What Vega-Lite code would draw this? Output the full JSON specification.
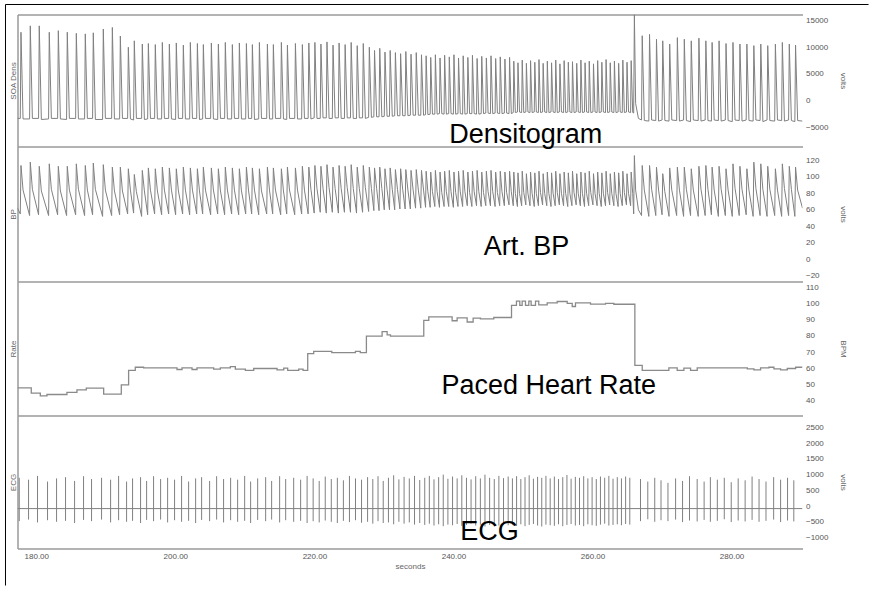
{
"$schema":"https://vega.github.io/schema/vega-lite/v6.json",
"padding":{"left":4.5,"top":3.5,"right":0,"bottom":0},
"background":"white",
"spacing":0,
"bounds":"flush",
"config":{"view":{"stroke":null},"axis":{"grid":false,"ticks":false,"labelFont":"Liberation Sans","titleFont":"Liberation Sans","labelFontSize":8,"titleFontSize":8,"labelColor":"#555","titleColor":"#666","titleFontWeight":"normal","domainColor":"#9a9a9a","domainWidth":1.5}},
"datasets":{
"db":[
{"t":177.3,"d":-3300,"b":62},
{"t":177.7,"d":-3300,"b":55},{"t":177.8,"d":12800,"b":114},{"t":178.1,"d":-3400,"b":84},
{"t":179.04,"d":-3400,"b":53},{"t":179.14,"d":14000,"b":118},{"t":179.44,"d":-3300,"b":85},
{"t":180.33,"d":-3300,"b":54},{"t":180.43,"d":14000,"b":113},{"t":180.73,"d":-3500,"b":83},
{"t":181.77,"d":-3400,"b":53},{"t":181.87,"d":12800,"b":116},{"t":182.17,"d":-3300,"b":85},
{"t":183.07,"d":-3300,"b":54},{"t":183.17,"d":13100,"b":113},{"t":183.47,"d":-3400,"b":83},
{"t":184.36,"d":-3500,"b":53},{"t":184.46,"d":12800,"b":113},{"t":184.76,"d":-3300,"b":84},
{"t":185.66,"d":-3300,"b":54},{"t":185.76,"d":12600,"b":116},{"t":186.06,"d":-3400,"b":85},
{"t":186.95,"d":-3400,"b":53},{"t":187.05,"d":12500,"b":114},{"t":187.35,"d":-3300,"b":84},
{"t":188.1,"d":-3300,"b":54},{"t":188.2,"d":12700,"b":117},{"t":188.5,"d":-3500,"b":85},
{"t":189.54,"d":-3500,"b":52},{"t":189.64,"d":13400,"b":115},{"t":189.94,"d":-3300,"b":84},
{"t":190.84,"d":-3300,"b":53},{"t":190.94,"d":13700,"b":112},{"t":191.24,"d":-3400,"b":83},
{"t":191.99,"d":-3400,"b":54},{"t":192.09,"d":12100,"b":112},{"t":192.39,"d":-3300,"b":83},
{"t":193.14,"d":-3300,"b":55},{"t":193.24,"d":10000,"b":110},{"t":193.54,"d":-3400,"b":84},
{"t":194.0,"d":-3600,"b":56},{"t":194.1,"d":11200,"b":103},{"t":194.4,"d":-3300,"b":82},
{"t":195.15,"d":-3300,"b":52},{"t":195.25,"d":10600,"b":108},{"t":195.55,"d":-3500,"b":83},
{"t":196.02,"d":-3400,"b":54},{"t":196.12,"d":10700,"b":111},{"t":196.42,"d":-3300,"b":84},
{"t":197.02,"d":-3300,"b":55},{"t":197.12,"d":10500,"b":110},{"t":197.42,"d":-3400,"b":83},
{"t":198.03,"d":-3400,"b":54},{"t":198.13,"d":10900,"b":112},{"t":198.43,"d":-3300,"b":84},
{"t":199.04,"d":-3300,"b":55},{"t":199.14,"d":10600,"b":111},{"t":199.44,"d":-3400,"b":84},
{"t":200.04,"d":-3500,"b":54},{"t":200.14,"d":10800,"b":110},{"t":200.44,"d":-3300,"b":83},
{"t":201.05,"d":-3300,"b":55},{"t":201.15,"d":10400,"b":112},{"t":201.45,"d":-3400,"b":84},
{"t":202.06,"d":-3400,"b":54},{"t":202.16,"d":10900,"b":111},{"t":202.46,"d":-3300,"b":84},
{"t":203.07,"d":-3300,"b":55},{"t":203.17,"d":10700,"b":110},{"t":203.47,"d":-3500,"b":83},
{"t":203.93,"d":-3400,"b":55},{"t":204.03,"d":10500,"b":112},{"t":204.33,"d":-3300,"b":84},
{"t":205.08,"d":-3300,"b":54},{"t":205.18,"d":10800,"b":111},{"t":205.48,"d":-3400,"b":84},
{"t":206.09,"d":-3500,"b":55},{"t":206.19,"d":10600,"b":110},{"t":206.49,"d":-3300,"b":83},
{"t":207.09,"d":-3300,"b":54},{"t":207.19,"d":10900,"b":112},{"t":207.49,"d":-3400,"b":84},
{"t":208.1,"d":-3400,"b":55},{"t":208.2,"d":10500,"b":111},{"t":208.5,"d":-3300,"b":84},
{"t":209.11,"d":-3300,"b":54},{"t":209.21,"d":10800,"b":110},{"t":209.51,"d":-3400,"b":83},
{"t":210.12,"d":-3400,"b":55},{"t":210.22,"d":10700,"b":112},{"t":210.52,"d":-3300,"b":84},
{"t":210.98,"d":-3300,"b":55},{"t":211.08,"d":10500,"b":111},{"t":211.38,"d":-3500,"b":84},
{"t":211.99,"d":-3400,"b":54},{"t":212.09,"d":10900,"b":110},{"t":212.39,"d":-3300,"b":83},
{"t":213.14,"d":-3300,"b":55},{"t":213.24,"d":10600,"b":112},{"t":213.54,"d":-3400,"b":84},
{"t":214.0,"d":-3400,"b":55},{"t":214.1,"d":10500,"b":111},{"t":214.4,"d":-3300,"b":84},
{"t":215.15,"d":-3300,"b":54},{"t":215.25,"d":10900,"b":110},{"t":215.55,"d":-3400,"b":83},
{"t":216.02,"d":-3500,"b":55},{"t":216.12,"d":10400,"b":112},{"t":216.42,"d":-3300,"b":84},
{"t":217.17,"d":-3300,"b":54},{"t":217.27,"d":10700,"b":111},{"t":217.57,"d":-3400,"b":84},
{"t":218.17,"d":-3400,"b":55},{"t":218.27,"d":10500,"b":113},{"t":218.57,"d":-3300,"b":84},
{"t":219.1,"d":-3300,"b":55},{"t":219.2,"d":10800,"b":112},{"t":219.5,"d":-3400,"b":85},
{"t":219.97,"d":-3200,"b":56},{"t":220.07,"d":10900,"b":114},{"t":220.37,"d":-3300,"b":86},
{"t":220.84,"d":-3300,"b":57},{"t":220.94,"d":10600,"b":113},{"t":221.24,"d":-3200,"b":86},
{"t":221.71,"d":-3200,"b":56},{"t":221.81,"d":11000,"b":115},{"t":222.11,"d":-3300,"b":87},
{"t":222.58,"d":-3300,"b":57},{"t":222.68,"d":10400,"b":112},{"t":222.98,"d":-3200,"b":86},
{"t":223.45,"d":-3200,"b":56},{"t":223.55,"d":10800,"b":114},{"t":223.85,"d":-3300,"b":86},
{"t":224.32,"d":-3300,"b":57},{"t":224.42,"d":10500,"b":113},{"t":224.72,"d":-3200,"b":87},
{"t":225.19,"d":-3200,"b":57},{"t":225.29,"d":10900,"b":115},{"t":225.59,"d":-3300,"b":86},
{"t":226.06,"d":-3300,"b":56},{"t":226.16,"d":10300,"b":112},{"t":226.46,"d":-3200,"b":86},
{"t":226.93,"d":-3200,"b":57},{"t":227.03,"d":10700,"b":114},{"t":227.33,"d":-3300,"b":87},
{"t":227.8,"d":-3100,"b":58},{"t":227.9,"d":10000,"b":112},{"t":228.2,"d":-3100,"b":86},
{"t":228.55,"d":-3000,"b":59},{"t":228.65,"d":9400,"b":111},{"t":228.95,"d":-3000,"b":86},
{"t":229.3,"d":-3000,"b":59},{"t":229.4,"d":9800,"b":112},{"t":229.7,"d":-3000,"b":86},
{"t":230.05,"d":-2900,"b":60},{"t":230.15,"d":9100,"b":110},{"t":230.45,"d":-2900,"b":85},
{"t":230.8,"d":-2900,"b":60},{"t":230.9,"d":9400,"b":111},{"t":231.2,"d":-2900,"b":85},
{"t":231.55,"d":-2800,"b":60},{"t":231.65,"d":9000,"b":109},{"t":231.95,"d":-2800,"b":85},
{"t":232.3,"d":-2800,"b":61},{"t":232.4,"d":8800,"b":110},{"t":232.7,"d":-2800,"b":85},
{"t":233.05,"d":-2800,"b":61},{"t":233.15,"d":9200,"b":109},{"t":233.45,"d":-2800,"b":84},
{"t":233.8,"d":-2700,"b":61},{"t":233.9,"d":8700,"b":108},{"t":234.2,"d":-2700,"b":84},
{"t":234.55,"d":-2700,"b":62},{"t":234.65,"d":9000,"b":109},{"t":234.95,"d":-2700,"b":84},
{"t":235.3,"d":-2700,"b":62},{"t":235.4,"d":8600,"b":108},{"t":235.7,"d":-2700,"b":84},
{"t":235.99,"d":-2600,"b":63},{"t":236.07,"d":8400,"b":107},{"t":236.32,"d":-2600,"b":82},
{"t":236.65,"d":-2500,"b":63},{"t":236.73,"d":8100,"b":106},{"t":236.98,"d":-2500,"b":82},
{"t":237.32,"d":-2500,"b":64},{"t":237.4,"d":8600,"b":108},{"t":237.65,"d":-2500,"b":82},
{"t":237.99,"d":-2400,"b":63},{"t":238.07,"d":8000,"b":106},{"t":238.32,"d":-2400,"b":81},
{"t":238.65,"d":-2500,"b":64},{"t":238.73,"d":8500,"b":107},{"t":238.98,"d":-2500,"b":82},
{"t":239.32,"d":-2400,"b":64},{"t":239.4,"d":8200,"b":108},{"t":239.65,"d":-2400,"b":82},
{"t":239.99,"d":-2500,"b":63},{"t":240.07,"d":8600,"b":106},{"t":240.32,"d":-2500,"b":81},
{"t":240.65,"d":-2400,"b":64},{"t":240.73,"d":8000,"b":107},{"t":240.98,"d":-2400,"b":82},
{"t":241.32,"d":-2500,"b":64},{"t":241.4,"d":8400,"b":108},{"t":241.65,"d":-2500,"b":82},
{"t":241.99,"d":-2400,"b":65},{"t":242.07,"d":8100,"b":106},{"t":242.32,"d":-2400,"b":81},
{"t":242.65,"d":-2400,"b":64},{"t":242.73,"d":8500,"b":107},{"t":242.98,"d":-2400,"b":82},
{"t":243.32,"d":-2500,"b":65},{"t":243.4,"d":7900,"b":108},{"t":243.65,"d":-2500,"b":82},
{"t":243.99,"d":-2400,"b":64},{"t":244.07,"d":8300,"b":106},{"t":244.32,"d":-2400,"b":81},
{"t":244.65,"d":-2300,"b":65},{"t":244.73,"d":8000,"b":107},{"t":244.98,"d":-2300,"b":82},
{"t":245.32,"d":-2400,"b":65},{"t":245.4,"d":8400,"b":108},{"t":245.65,"d":-2400,"b":82},
{"t":245.99,"d":-2300,"b":64},{"t":246.07,"d":7900,"b":106},{"t":246.32,"d":-2300,"b":81},
{"t":246.65,"d":-2400,"b":65},{"t":246.73,"d":8200,"b":107},{"t":246.98,"d":-2400,"b":82},
{"t":247.32,"d":-2300,"b":65},{"t":247.4,"d":7800,"b":106},{"t":247.65,"d":-2300,"b":81},
{"t":247.99,"d":-2400,"b":66},{"t":248.07,"d":8100,"b":107},{"t":248.32,"d":-2400,"b":82},
{"t":248.6,"d":-2200,"b":65},{"t":248.68,"d":7400,"b":106},{"t":248.9,"d":-2200,"b":80},
{"t":249.2,"d":-2100,"b":64},{"t":249.28,"d":7100,"b":105},{"t":249.5,"d":-2100,"b":80},
{"t":249.81,"d":-2200,"b":65},{"t":249.89,"d":7600,"b":107},{"t":250.11,"d":-2200,"b":81},
{"t":250.41,"d":-2100,"b":66},{"t":250.49,"d":7000,"b":104},{"t":250.71,"d":-2100,"b":80},
{"t":251.01,"d":-2200,"b":65},{"t":251.09,"d":7500,"b":106},{"t":251.31,"d":-2200,"b":80},
{"t":251.62,"d":-2100,"b":64},{"t":251.7,"d":7200,"b":105},{"t":251.92,"d":-2100,"b":80},
{"t":252.22,"d":-2200,"b":65},{"t":252.3,"d":7700,"b":107},{"t":252.52,"d":-2200,"b":81},
{"t":252.82,"d":-2100,"b":66},{"t":252.9,"d":7000,"b":104},{"t":253.12,"d":-2100,"b":80},
{"t":253.42,"d":-2200,"b":65},{"t":253.5,"d":7400,"b":106},{"t":253.72,"d":-2200,"b":80},
{"t":254.03,"d":-2100,"b":64},{"t":254.11,"d":7100,"b":105},{"t":254.33,"d":-2100,"b":80},
{"t":254.63,"d":-2200,"b":65},{"t":254.71,"d":7600,"b":107},{"t":254.93,"d":-2200,"b":81},
{"t":255.23,"d":-2100,"b":66},{"t":255.31,"d":6900,"b":104},{"t":255.53,"d":-2100,"b":80},
{"t":255.84,"d":-2200,"b":65},{"t":255.92,"d":7500,"b":106},{"t":256.14,"d":-2200,"b":80},
{"t":256.44,"d":-2100,"b":64},{"t":256.52,"d":7200,"b":105},{"t":256.74,"d":-2100,"b":80},
{"t":257.04,"d":-2200,"b":65},{"t":257.12,"d":7300,"b":107},{"t":257.34,"d":-2200,"b":81},
{"t":257.65,"d":-2100,"b":66},{"t":257.73,"d":7000,"b":104},{"t":257.95,"d":-2100,"b":80},
{"t":258.25,"d":-2200,"b":65},{"t":258.33,"d":7600,"b":106},{"t":258.55,"d":-2200,"b":80},
{"t":258.85,"d":-2100,"b":64},{"t":258.93,"d":7100,"b":105},{"t":259.15,"d":-2100,"b":80},
{"t":259.45,"d":-2200,"b":65},{"t":259.53,"d":7400,"b":107},{"t":259.75,"d":-2200,"b":81},
{"t":260.06,"d":-2100,"b":66},{"t":260.14,"d":6900,"b":104},{"t":260.36,"d":-2100,"b":80},
{"t":260.66,"d":-2200,"b":65},{"t":260.74,"d":7500,"b":106},{"t":260.96,"d":-2200,"b":80},
{"t":261.26,"d":-2100,"b":64},{"t":261.34,"d":7200,"b":105},{"t":261.56,"d":-2100,"b":80},
{"t":261.87,"d":-2200,"b":65},{"t":261.95,"d":7700,"b":107},{"t":262.17,"d":-2200,"b":81},
{"t":262.47,"d":-2100,"b":66},{"t":262.55,"d":7100,"b":104},{"t":262.77,"d":-2100,"b":80},
{"t":263.07,"d":-2200,"b":65},{"t":263.15,"d":7400,"b":106},{"t":263.37,"d":-2200,"b":80},
{"t":263.68,"d":-2100,"b":64},{"t":263.76,"d":7000,"b":105},{"t":263.98,"d":-2100,"b":80},
{"t":264.28,"d":-2200,"b":65},{"t":264.36,"d":7600,"b":107},{"t":264.58,"d":-2200,"b":81},
{"t":264.88,"d":-2100,"b":66},{"t":264.96,"d":7200,"b":104},{"t":265.18,"d":-2100,"b":80},
{"t":265.48,"d":-2200,"b":65},{"t":265.56,"d":7500,"b":106},{"t":265.78,"d":-2200,"b":80},
{"t":265.92,"d":-2300,"b":55},{"t":266.02,"d":16100,"b":126},{"t":266.2,"d":-500,"b":84},{"t":266.6,"d":-3300,"b":60},
{"t":267.05,"d":-3600,"b":53},{"t":267.15,"d":12150,"b":114},{"t":267.45,"d":-3700,"b":84},
{"t":268.1,"d":-3800,"b":52},{"t":268.2,"d":12400,"b":114},{"t":268.5,"d":-3600,"b":85},
{"t":269.1,"d":-3700,"b":53},{"t":269.2,"d":11500,"b":112},{"t":269.5,"d":-3800,"b":84},
{"t":270.0,"d":-3600,"b":54},{"t":270.1,"d":11200,"b":104},{"t":270.4,"d":-3700,"b":82},
{"t":271.0,"d":-3800,"b":52},{"t":271.1,"d":10600,"b":111},{"t":271.4,"d":-3600,"b":84},
{"t":272.1,"d":-3700,"b":53},{"t":272.2,"d":11800,"b":112},{"t":272.5,"d":-3800,"b":84},
{"t":273.1,"d":-3600,"b":52},{"t":273.2,"d":11500,"b":112},{"t":273.5,"d":-3700,"b":85},
{"t":274.1,"d":-3900,"b":53},{"t":274.2,"d":11200,"b":110},{"t":274.5,"d":-3600,"b":84},
{"t":275.2,"d":-3700,"b":52},{"t":275.3,"d":11700,"b":113},{"t":275.6,"d":-3800,"b":85},
{"t":276.2,"d":-3600,"b":53},{"t":276.3,"d":11200,"b":114},{"t":276.6,"d":-3700,"b":85},
{"t":277.1,"d":-3800,"b":54},{"t":277.2,"d":10900,"b":112},{"t":277.5,"d":-3600,"b":84},
{"t":278.1,"d":-3700,"b":52},{"t":278.2,"d":11200,"b":113},{"t":278.5,"d":-3800,"b":85},
{"t":279.1,"d":-3600,"b":53},{"t":279.2,"d":10700,"b":110},{"t":279.5,"d":-3700,"b":84},
{"t":280.1,"d":-3900,"b":52},{"t":280.2,"d":10900,"b":116},{"t":280.5,"d":-3600,"b":86},
{"t":281.1,"d":-3700,"b":53},{"t":281.2,"d":10600,"b":113},{"t":281.5,"d":-3800,"b":85},
{"t":282.1,"d":-3600,"b":54},{"t":282.2,"d":10600,"b":110},{"t":282.5,"d":-3700,"b":84},
{"t":283.1,"d":-3800,"b":52},{"t":283.2,"d":10300,"b":118},{"t":283.5,"d":-3600,"b":86},
{"t":284.1,"d":-3700,"b":53},{"t":284.2,"d":10600,"b":116},{"t":284.5,"d":-3900,"b":85},
{"t":285.1,"d":-3600,"b":52},{"t":285.2,"d":10300,"b":113},{"t":285.5,"d":-3700,"b":85},
{"t":286.2,"d":-3800,"b":53},{"t":286.3,"d":10600,"b":110},{"t":286.6,"d":-3600,"b":84},
{"t":287.2,"d":-3700,"b":52},{"t":287.3,"d":10900,"b":116},{"t":287.6,"d":-3800,"b":86},
{"t":288.2,"d":-3600,"b":53},{"t":288.3,"d":10600,"b":113},{"t":288.6,"d":-3700,"b":85},
{"t":289.1,"d":-3900,"b":52},{"t":289.2,"d":10400,"b":112},{"t":289.5,"d":-3700,"b":84},
{"t":290.2,"d":-3800,"b":62}
],
"ecg":[
{"t":177.55,"h":900,"l":-480},{"t":178.89,"h":840,"l":-430},{"t":180.18,"h":960,"l":-520},{"t":181.62,"h":780,"l":-450},{"t":182.92,"h":880,"l":-500},{"t":184.21,"h":920,"l":-470},{"t":185.51,"h":800,"l":-540},{"t":186.8,"h":950,"l":-440},{"t":187.95,"h":860,"l":-480},{"t":189.39,"h":900,"l":-430},{"t":190.69,"h":840,"l":-520},{"t":191.84,"h":960,"l":-450},{"t":192.99,"h":780,"l":-500},{"t":193.85,"h":880,"l":-470},{"t":195.0,"h":920,"l":-540},{"t":195.87,"h":800,"l":-440},{"t":196.87,"h":950,"l":-480},{"t":197.88,"h":860,"l":-430},{"t":198.89,"h":900,"l":-520},{"t":199.89,"h":840,"l":-450},{"t":200.9,"h":960,"l":-500},{"t":201.91,"h":780,"l":-470},{"t":202.92,"h":880,"l":-540},{"t":203.78,"h":920,"l":-440},{"t":204.93,"h":800,"l":-480},{"t":205.94,"h":950,"l":-430},{"t":206.94,"h":860,"l":-520},{"t":207.95,"h":900,"l":-450},{"t":208.96,"h":840,"l":-500},{"t":209.97,"h":960,"l":-470},{"t":210.83,"h":780,"l":-540},{"t":211.84,"h":880,"l":-440},{"t":212.99,"h":920,"l":-480},{"t":213.85,"h":800,"l":-430},{"t":215.0,"h":950,"l":-520},{"t":215.87,"h":860,"l":-450},{"t":217.02,"h":900,"l":-500},{"t":218.02,"h":840,"l":-470},{"t":218.95,"h":960,"l":-540},
{"t":219.82,"h":880,"l":-480},{"t":220.69,"h":800,"l":-520},{"t":221.56,"h":940,"l":-460},{"t":222.43,"h":860,"l":-500},{"t":223.3,"h":900,"l":-540},{"t":224.17,"h":820,"l":-470},{"t":225.04,"h":960,"l":-510},{"t":225.91,"h":880,"l":-450},{"t":226.78,"h":840,"l":-530},
{"t":227.65,"h":920,"l":-500},{"t":228.4,"h":860,"l":-560},{"t":229.15,"h":950,"l":-480},{"t":229.9,"h":800,"l":-540},{"t":230.65,"h":900,"l":-520},{"t":231.4,"h":980,"l":-580},{"t":232.15,"h":850,"l":-500},{"t":232.9,"h":930,"l":-560},{"t":233.65,"h":880,"l":-520},{"t":234.4,"h":960,"l":-590},{"t":235.15,"h":830,"l":-540},
{"t":235.87,"h":900,"l":-600},{"t":236.53,"h":960,"l":-560},{"t":237.2,"h":850,"l":-620},{"t":237.87,"h":920,"l":-580},{"t":238.53,"h":1000,"l":-640},{"t":239.2,"h":870,"l":-590},{"t":239.87,"h":940,"l":-610},{"t":240.53,"h":880,"l":-570},{"t":241.2,"h":980,"l":-630},{"t":241.87,"h":900,"l":-600},{"t":242.53,"h":850,"l":-560},{"t":243.2,"h":950,"l":-620},{"t":243.87,"h":880,"l":-590},{"t":244.53,"h":1000,"l":-650},{"t":245.2,"h":900,"l":-600},{"t":245.87,"h":860,"l":-570},{"t":246.53,"h":960,"l":-620},{"t":247.2,"h":890,"l":-590},{"t":247.87,"h":940,"l":-610},
{"t":248.48,"h":880,"l":-600},{"t":249.08,"h":950,"l":-630},{"t":249.69,"h":860,"l":-580},{"t":250.29,"h":920,"l":-640},{"t":250.89,"h":980,"l":-600},{"t":251.5,"h":870,"l":-570},{"t":252.1,"h":930,"l":-620},{"t":252.7,"h":900,"l":-650},{"t":253.3,"h":960,"l":-590},{"t":253.91,"h":880,"l":-610},{"t":254.51,"h":940,"l":-630},{"t":255.11,"h":860,"l":-580},{"t":255.72,"h":920,"l":-640},{"t":256.32,"h":990,"l":-600},{"t":256.92,"h":870,"l":-570},{"t":257.53,"h":930,"l":-620},{"t":258.13,"h":900,"l":-600},{"t":258.73,"h":950,"l":-640},{"t":259.33,"h":880,"l":-580},{"t":259.94,"h":920,"l":-610},{"t":260.54,"h":860,"l":-630},{"t":261.14,"h":940,"l":-590},{"t":261.75,"h":900,"l":-560},{"t":262.35,"h":960,"l":-620},{"t":262.95,"h":870,"l":-600},{"t":263.56,"h":920,"l":-580},{"t":264.16,"h":880,"l":-610},{"t":264.76,"h":940,"l":-570},{"t":265.36,"h":900,"l":-590},
{"t":266.9,"h":860,"l":-480},{"t":267.95,"h":780,"l":-420},{"t":268.95,"h":900,"l":-500},{"t":269.85,"h":820,"l":-450},{"t":270.85,"h":740,"l":-480},{"t":271.95,"h":880,"l":-430},{"t":272.95,"h":800,"l":-510},{"t":273.95,"h":950,"l":-460},{"t":275.05,"h":860,"l":-490},{"t":276.05,"h":780,"l":-440},{"t":276.95,"h":920,"l":-500},{"t":277.95,"h":840,"l":-470},{"t":278.95,"h":900,"l":-420},{"t":279.95,"h":760,"l":-510},{"t":280.95,"h":880,"l":-460},{"t":281.95,"h":820,"l":-490},{"t":282.95,"h":940,"l":-440},{"t":283.95,"h":860,"l":-500},{"t":284.95,"h":780,"l":-470},{"t":286.05,"h":920,"l":-430},{"t":287.05,"h":840,"l":-510},{"t":288.05,"h":900,"l":-460},{"t":288.95,"h":820,"l":-490}
],
"ecgbase":[{"t":177.3,"v":-80},{"t":290.2,"v":-80}],
"rate":[
{"t":177.3,"r":47.8},{"t":179.28,"r":44.5},{"t":180.58,"r":42.9},{"t":181.54,"r":43.7},{"t":184.41,"r":45.0},{"t":185.85,"r":46.6},{"t":187.19,"r":47.6},{"t":189.69,"r":44.0},{"t":192.23,"r":49.7},{"t":193.28,"r":58.6},{"t":194.24,"r":60.6},{"t":195.44,"r":60.2},{"t":200.24,"r":59.2},{"t":200.96,"r":60.2},{"t":202.4,"r":59.2},{"t":203.12,"r":60.2},{"t":205.51,"r":59.4},{"t":206.47,"r":60.2},{"t":207.91,"r":61.0},{"t":208.63,"r":59.4},{"t":210.07,"r":58.6},{"t":211.27,"r":59.8},{"t":214.63,"r":59.0},{"t":215.59,"r":60.0},{"t":216.16,"r":58.6},{"t":217.74,"r":59.4},{"t":218.37,"r":58.6},
{"t":219.04,"r":69.0},{"t":219.9,"r":70.4},{"t":222.5,"r":69.6},{"t":225.9,"r":70.4},{"t":226.6,"r":69.6},
{"t":227.48,"r":79.9},{"t":229.74,"r":82.6},{"t":230.46,"r":80.7},{"t":230.94,"r":79.9},
{"t":235.73,"r":89.6},{"t":236.45,"r":91.8},{"t":239.81,"r":89.4},{"t":240.53,"r":91.2},{"t":241.97,"r":88.6},{"t":242.83,"r":91.0},{"t":243.88,"r":90.6},{"t":245.8,"r":91.4},
{"t":248.35,"r":98.9},{"t":249.06,"r":101.5},{"t":249.54,"r":98.9},{"t":249.88,"r":101.5},{"t":250.36,"r":98.9},{"t":250.84,"r":101.5},{"t":251.17,"r":98.9},{"t":251.8,"r":101.5},{"t":252.27,"r":99.2},{"t":253.48,"r":100.5},{"t":254.92,"r":101.3},{"t":256.36,"r":100.2},{"t":257.08,"r":98.2},{"t":257.55,"r":100.4},{"t":259.71,"r":99.7},{"t":261.87,"r":100.2},{"t":263.07,"r":99.6},
{"t":266.09,"r":61.7},{"t":267.15,"r":58.6},{"t":270.98,"r":60.2},{"t":272.18,"r":58.6},{"t":273.14,"r":60.0},{"t":274.1,"r":58.6},{"t":275.06,"r":60.2},{"t":282.26,"r":59.6},{"t":283.21,"r":59.0},{"t":284.17,"r":60.2},{"t":285.37,"r":60.6},{"t":286.09,"r":59.6},{"t":287.05,"r":59.0},{"t":288.01,"r":59.8},{"t":289.21,"r":60.6},{"t":290.2,"r":60.6}
]
},
"vconcat":[
{"width":785,"height":132,
 "resolve":{"axis":{"x":"independent","y":"independent"}},
 "layer":[
  {"data":{"name":"db"},"mark":{"type":"line","color":"#808080","strokeWidth":1,"clip":true},
   "encoding":{
    "x":{"field":"t","type":"quantitative","scale":{"domain":[177.3,290.2],"nice":false,"zero":false},"axis":{"orient":"bottom","labels":false,"title":null}},
    "y":{"field":"d","type":"quantitative","scale":{"domain":[-8550,16120],"nice":false,"zero":false},"axis":{"orient":"left","labels":false,"title":"SOA Dens","titleX":-4,"titleBaseline":"middle"}}}},
  {"data":{"values":[{"frame":"left"}]},"mark":{"type":"rule","color":"#000","strokeWidth":1,"clip":false},
   "encoding":{
    "x":{"datum":175.574,"type":"quantitative","scale":{"domain":[177.3,290.2],"nice":false,"zero":false},"axis":null},
    "y":{"datum":17989,"type":"quantitative","scale":{"domain":[-8550,16120],"nice":false,"zero":false},"axis":null},
    "y2":{"datum":-90600}}},
  {"data":{"values":[{"frame":"top"}]},"mark":{"type":"rule","color":"#000","strokeWidth":1,"clip":false},
   "encoding":{
    "x":{"datum":175.574,"type":"quantitative","scale":{"domain":[177.3,290.2],"nice":false,"zero":false},"axis":null},
    "x2":{"datum":299.7},
    "y":{"datum":17989,"type":"quantitative","scale":{"domain":[-8550,16120],"nice":false,"zero":false},"axis":null}}},
  {"data":{"values":[{"label":"Densitogram"}]},"mark":{"type":"text","font":"Liberation Sans","fontSize":27,"color":"#000","align":"center","baseline":"alphabetic"},
   "encoding":{
    "x":{"datum":250.4,"type":"quantitative","scale":{"domain":[177.3,290.2],"nice":false,"zero":false},"axis":{"orient":"top","labels":false,"title":null}},
    "y":{"datum":-7850,"type":"quantitative","scale":{"domain":[-8550,16120],"nice":false,"zero":false},"axis":{"orient":"right","values":[-5000,0,5000,10000,15000],"format":"d","domain":false,"labelPadding":3,"title":"volts","titleX":40,"titleBaseline":"middle"}},
    "text":{"field":"label"}}}
 ]},
{"width":785,"height":135,
 "resolve":{"axis":{"x":"independent","y":"independent"}},
 "layer":[
  {"data":{"name":"db"},"mark":{"type":"line","color":"#808080","strokeWidth":1,"clip":true},
   "encoding":{
    "x":{"field":"t","type":"quantitative","scale":{"domain":[177.3,290.2],"nice":false,"zero":false},"axis":{"orient":"bottom","labels":false,"title":null}},
    "y":{"field":"b","type":"quantitative","scale":{"domain":[-27.3,137.1],"nice":false,"zero":false},"axis":{"orient":"left","labels":false,"title":"BP","titleX":-4,"titleBaseline":"middle"}}}},
  {"data":{"values":[{"label":"Art. BP"}]},"mark":{"type":"text","font":"Liberation Sans","fontSize":27,"color":"#000","align":"center","baseline":"alphabetic"},
   "encoding":{
    "x":{"datum":250.5,"type":"quantitative","scale":{"domain":[177.3,290.2],"nice":false,"zero":false},"axis":null},
    "y":{"datum":5.5,"type":"quantitative","scale":{"domain":[-27.3,137.1],"nice":false,"zero":false},"axis":{"orient":"right","values":[-20,0,20,40,60,80,100,120],"format":"d","domain":false,"labelPadding":3,"title":"volts","titleX":40,"titleBaseline":"middle"}},
    "text":{"field":"label"}}}
 ]},
{"width":785,"height":134,
 "resolve":{"axis":{"x":"independent","y":"independent"}},
 "layer":[
  {"data":{"name":"rate"},"mark":{"type":"line","color":"#8a8a8a","strokeWidth":1.3,"interpolate":"step-after","clip":true},
   "encoding":{
    "x":{"field":"t","type":"quantitative","scale":{"domain":[177.3,290.2],"nice":false,"zero":false},"axis":{"orient":"bottom","labels":false,"title":null}},
    "y":{"field":"r","type":"quantitative","scale":{"domain":[30.7,113.7],"nice":false,"zero":false},"axis":{"orient":"left","labels":false,"title":"Rate","titleX":-4,"titleBaseline":"middle"}}}},
  {"data":{"values":[{"label":"Paced Heart Rate"}]},"mark":{"type":"text","font":"Liberation Sans","fontSize":27,"color":"#000","align":"center","baseline":"alphabetic"},
   "encoding":{
    "x":{"datum":253.7,"type":"quantitative","scale":{"domain":[177.3,290.2],"nice":false,"zero":false},"axis":null},
    "y":{"datum":44.2,"type":"quantitative","scale":{"domain":[30.7,113.7],"nice":false,"zero":false},"axis":{"orient":"right","values":[40,50,60,70,80,90,100,110],"format":"d","domain":false,"labelPadding":3,"title":"BPM","titleX":40,"titleBaseline":"middle"}},
    "text":{"field":"label"}}}
 ]},
{"width":785,"height":133,
 "resolve":{"axis":{"x":"independent","y":"independent"}},
 "layer":[
  {"data":{"name":"ecgbase"},"mark":{"type":"line","color":"#808080","strokeWidth":1,"clip":true},
   "encoding":{
    "x":{"field":"t","type":"quantitative","scale":{"domain":[177.3,290.2],"nice":false,"zero":false},"axis":{"orient":"bottom","values":[180,200,220,240,260,280],"format":".2f","labelPadding":4,"title":"seconds","titlePadding":2}},
    "y":{"field":"v","type":"quantitative","scale":{"domain":[-1350,2882],"nice":false,"zero":false},"axis":{"orient":"left","labels":false,"title":"ECG","titleX":-4,"titleBaseline":"middle"}}}},
  {"data":{"name":"ecg"},"mark":{"type":"rule","color":"#808080","strokeWidth":1,"clip":true},
   "encoding":{
    "x":{"field":"t","type":"quantitative","scale":{"domain":[177.3,290.2],"nice":false,"zero":false},"axis":null},
    "y":{"field":"l","type":"quantitative","scale":{"domain":[-1350,2882],"nice":false,"zero":false},"axis":null},
    "y2":{"field":"h"}}},
  {"data":{"values":[{"label":"ECG"}]},"mark":{"type":"text","font":"Liberation Sans","fontSize":27,"color":"#000","align":"center","baseline":"alphabetic"},
   "encoding":{
    "x":{"datum":245.2,"type":"quantitative","scale":{"domain":[177.3,290.2],"nice":false,"zero":false},"axis":null},
    "y":{"datum":-1082,"type":"quantitative","scale":{"domain":[-1350,2882],"nice":false,"zero":false},"axis":{"orient":"right","values":[-1000,-500,0,500,1000,1500,2000,2500],"format":"d","domain":false,"labelPadding":3,"title":"volts","titleX":40,"titleBaseline":"middle"}},
    "text":{"field":"label"}}}
 ]}
]
}
